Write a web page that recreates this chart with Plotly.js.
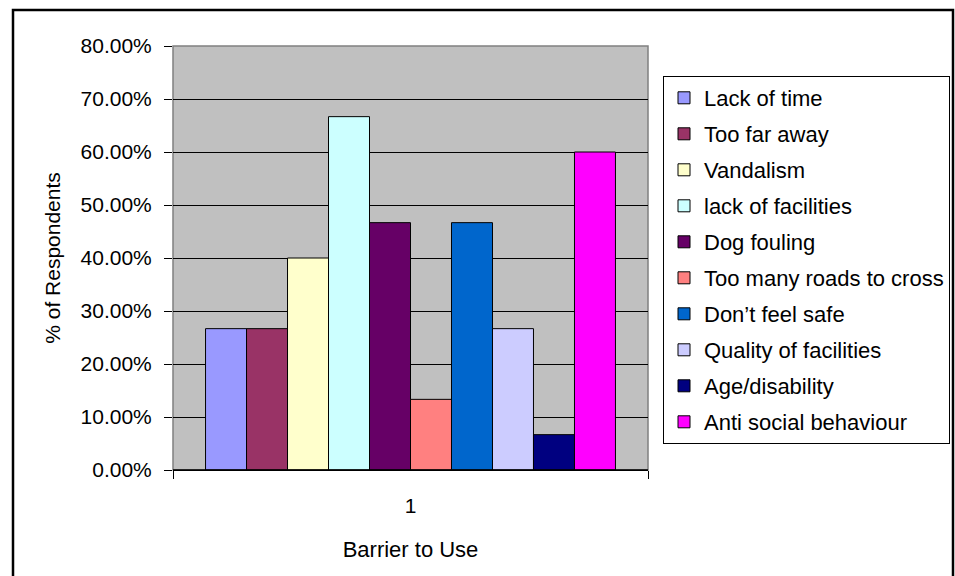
<!DOCTYPE html>
<html>
<head>
<meta charset="utf-8">
<script src="https://cdn.plot.ly/plotly-3.0.1.min.js"></script>
<style>
html,body{margin:0;padding:0;background:#fff;}
#chart{width:955px;height:576px;}
</style>
</head>
<body>
<div id="chart"></div>
<script>
var categories = ["1"];
var seriesNames = ["Lack of time","Too far away","Vandalism","lack of facilities","Dog fouling","Too many roads to cross","Don\u2019t feel safe","Quality of facilities","Age/disability","Anti social behaviour"];
var seriesValues = [0.2667,0.2667,0.40,0.6667,0.4667,0.1333,0.4667,0.2667,0.0667,0.60];
var seriesColors = ["#9999FF","#993366","#FFFFCC","#CCFFFF","#660066","#FF8080","#0066CC","#CCCCFF","#000080","#FF00FF"];
var yTickVals = [0,0.1,0.2,0.3,0.4,0.5,0.6,0.7,0.8];
var yTickText = ["0.00%","10.00%","20.00%","30.00%","40.00%","50.00%","60.00%","70.00%","80.00%"];

var FONT = "Liberation Sans, Arial, sans-serif";
var traces = seriesNames.map(function(name, i){
  return {
    type: "bar",
    name: name,
    legendgroup: "g" + i,
    x: categories,
    y: [seriesValues[i]],
    marker: {color: seriesColors[i], line: {color: "#000000", width: 1}},
    hoverinfo: "none"
  };
});

var L = 173, R = 648, T = 46, B = 470, W = 955, H = 576;
function px(x){ return (x - L) / (R - L); }
function py(y){ return (B - y) / (B - T); }

var layout = {
  width: W, height: H,
  autosize: false,
  margin: {l: L, r: W - R, t: T, b: H - B, pad: 0, autoexpand: false},
  paper_bgcolor: "#FFFFFF",
  plot_bgcolor: "#C0C0C0",
  barmode: "group",
  bargap: 0.137,
  bargroupgap: 0,
  showlegend: true,
  font: {family: FONT, color: "#000000", size: 21},
  legend: {
    x: px(663), y: py(76), xanchor: "left", yanchor: "top",
    bgcolor: "#FFFFFF", bordercolor: "#000000", borderwidth: 1,
    font: {family: FONT, size: 22, color: "#000000"},
    tracegroupgap: 4.4,
    traceorder: "grouped",
    itemclick: false, itemdoubleclick: false
  },
  xaxis: {
    type: "category",
    showgrid: false,
    showline: true, linecolor: "#000000", linewidth: 1,
    ticks: "outside", tickson: "boundaries", ticklen: 8, tickcolor: "#000000",
    tickfont: {family: FONT, size: 21, color: "#000000"},
    ticklabelstandoff: 17,
    title: {text: "Barrier to Use", font: {family: FONT, size: 22, color: "#000000"}, standoff: 25},
    fixedrange: true
  },
  yaxis: {
    range: [0, 0.8],
    tickvals: yTickVals, ticktext: yTickText,
    showgrid: true, gridcolor: "#000000", gridwidth: 1,
    zeroline: false,
    showline: false,
    ticks: "outside", ticklen: 8, tickcolor: "#000000",
    tickfont: {family: FONT, size: 21, color: "#000000"},
    ticklabelstandoff: 8,
    title: {text: "% of Respondents", font: {family: FONT, size: 21, color: "#000000"}, standoff: 14},
    fixedrange: true
  },
  shapes: [
    {type: "rect", xref: "paper", yref: "paper", x0: 0, x1: 1, y0: 0, y1: 1,
     line: {color: "#808080", width: 1.5}, fillcolor: "rgba(0,0,0,0)", layer: "below"},
    {type: "line", xref: "paper", yref: "paper", x0: 0, x1: 1, y0: 0, y1: 0,
     line: {color: "#000000", width: 1.5}},
    {type: "rect", xref: "paper", yref: "paper", x0: px(13), x1: px(953), y0: py(10), y1: py(590),
     line: {color: "#000000", width: 2.5}, fillcolor: "rgba(0,0,0,0)"}
  ]
};

Plotly.newPlot("chart", traces, layout, {staticPlot: true, displayModeBar: false});
</script>
</body>
</html>
